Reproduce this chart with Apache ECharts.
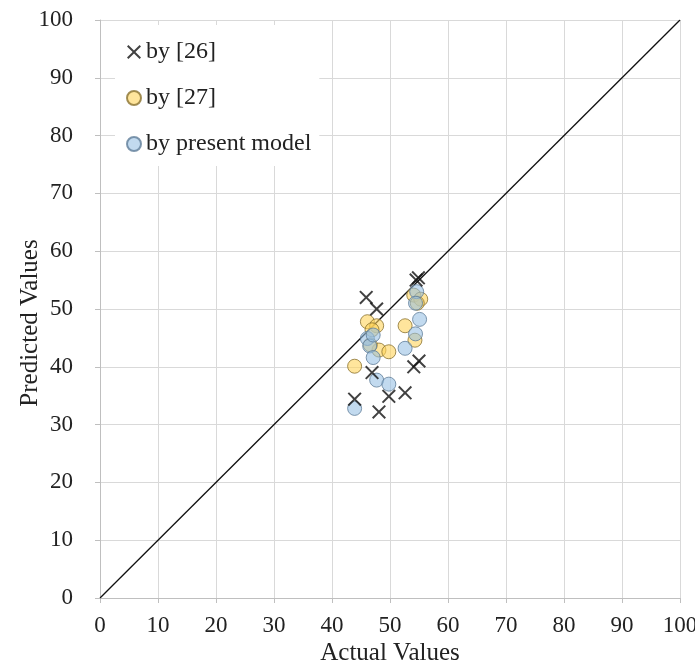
<!DOCTYPE html>
<html>
<head>
<meta charset="utf-8">
<script src="https://cdn.jsdelivr.net/npm/echarts@6/dist/echarts.min.js"></script>
<style>html,body{margin:0;padding:0;background:#fff}#c{width:695px;height:666px}</style>
</head>
<body>
<div id="c"></div>
<script>
const seriesNames = ['by [26]', 'by [27]', 'by present model'];
const ref26X = [45.9, 47.7, 54.5, 54.9, 54.1, 55.0, 46.9, 43.9, 49.8, 52.6, 48.1];
const ref26Y = [52.0, 50.0, 55.0, 55.4, 40.0, 41.0, 39.0, 34.4, 34.9, 35.5, 32.2];
const ref27X = [46.1, 47.7, 48.1, 49.8, 43.9, 52.6, 54.3, 54.1, 55.3, 54.7, 46.9, 46.6];
const ref27Y = [47.8, 47.1, 42.9, 42.6, 40.1, 47.1, 44.6, 52.4, 51.7, 51.0, 46.4, 43.8];
const presentX = [54.6, 54.4, 55.1, 54.4, 52.6, 46.1, 46.5, 47.1, 47.1, 47.7, 49.8, 43.9];
const presentY = [53.0, 51.0, 48.2, 45.7, 43.2, 44.9, 43.6, 45.5, 41.6, 37.7, 37.0, 32.8];
const lineX = [0, 100];
const lineY = [0, 100];

const zip = (a, b) => a.map((v, i) => [v, b[i]]);
const crossPath = 'path://M2,0 L10,8 L18,0 L20,2 L12,10 L20,18 L18,20 L10,12 L2,20 L0,18 L8,10 L0,2 Z';
const font = '"Liberation Serif","Times New Roman",serif';

const chart = echarts.init(document.getElementById('c'));
chart.setOption({
  animation: false,
  grid: {left: 100, right: 15, top: 20, bottom: 68, containLabel: false, outerBoundsMode: 'none'},
  xAxis: {
    type: 'value', min: 0, max: 100, interval: 10,
    name: 'Actual Values', nameLocation: 'middle', nameGap: 43, nameMoveOverlap: false,
    nameTextStyle: {fontFamily: font, fontSize: 25, color: '#222'},
    axisLine: {show: true, lineStyle: {color: '#bfbfbf'}},
    axisTick: {show: true, length: 5, lineStyle: {color: '#bfbfbf'}},
    axisLabel: {fontFamily: font, fontSize: 23, color: '#222', margin: 16},
    splitLine: {show: true, lineStyle: {color: '#d9d9d9'}}
  },
  yAxis: {
    type: 'value', min: 0, max: 100, interval: 10,
    name: 'Predicted Values', nameLocation: 'middle', nameGap: 57, nameMoveOverlap: false,
    nameTextStyle: {fontFamily: font, fontSize: 25, color: '#222', padding: [0, 28, 0, 0]},
    axisLine: {show: true, lineStyle: {color: '#bfbfbf'}},
    axisTick: {show: true, length: 5, lineStyle: {color: '#bfbfbf'}},
    axisLabel: {fontFamily: font, fontSize: 23, color: '#222', margin: 27},
    splitLine: {show: true, lineStyle: {color: '#d9d9d9'}}
  },
  legend: {
    orient: 'vertical', left: 115, top: 25,
    padding: [13, 8, 8, 11], itemGap: 18, itemWidth: 14, itemHeight: 14,
    backgroundColor: '#ffffff',
    data: [
      {name: seriesNames[0], icon: crossPath},
      {name: seriesNames[1], icon: 'circle'},
      {name: seriesNames[2], icon: 'circle'}
    ],
    textStyle: {fontFamily: font, fontSize: 24, color: '#222', lineHeight: 28}
  },
  series: [
    {
      type: 'line', data: zip(lineX, lineY), symbol: 'none', silent: true,
      lineStyle: {color: '#111', width: 1.3}, z: 1
    },
    {
      name: seriesNames[1], type: 'scatter', data: zip(ref27X, ref27Y),
      symbol: 'circle', symbolSize: 14, z: 2,
      itemStyle: {color: 'rgba(255,212,90,0.75)', borderColor: '#8a7230', borderWidth: 1}
    },
    {
      name: seriesNames[2], type: 'scatter', data: zip(presentX, presentY),
      symbol: 'circle', symbolSize: 14, z: 3,
      itemStyle: {color: 'rgba(150,190,228,0.72)', borderColor: '#5f7d98', borderWidth: 1}
    },
    {
      name: seriesNames[0], type: 'scatter', data: zip(ref26X, ref26Y),
      symbol: crossPath, symbolSize: 14, z: 4,
      itemStyle: {color: '#111'}
    }
  ]
});
</script>
</body>
</html>
